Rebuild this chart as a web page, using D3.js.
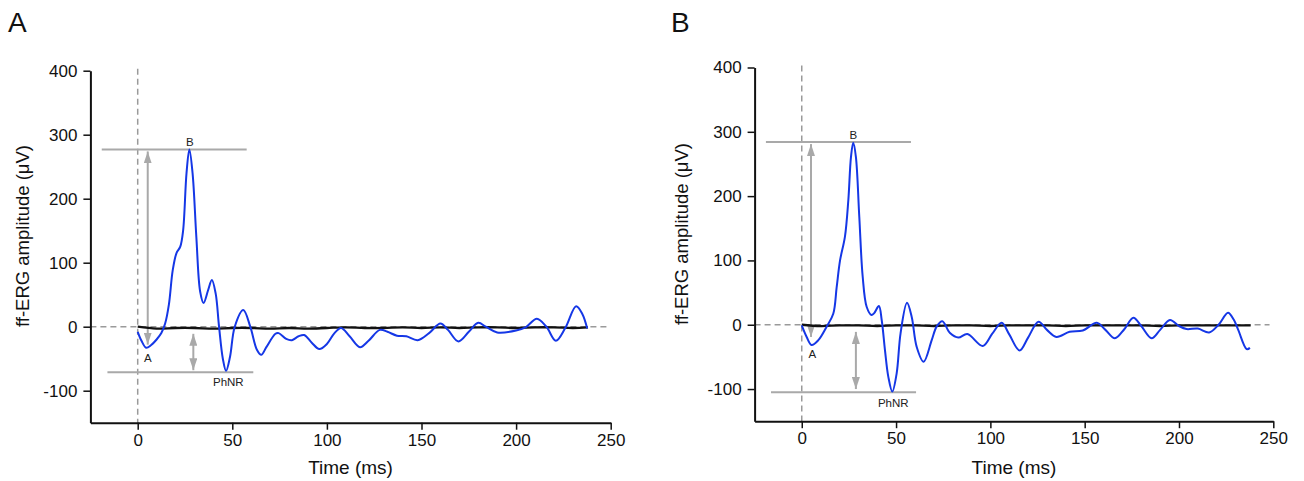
<!DOCTYPE html>
<html>
<head>
<meta charset="utf-8">
<script src="https://cdn.jsdelivr.net/npm/d3@7"></script>
<style>
  body { margin: 0; background: #fff; }
  svg { display: block; font-family: "Liberation Sans", Arial, sans-serif; }
</style>
</head>
<body>
<svg id="chart" width="1304" height="481"></svg>
<script>
// ---- data ----
const xTickLabels = [0, 50, 100, 150, 200, 250];
const xMinorTicks = [-25, 25, 75, 125, 175, 225];
const yTickLabels = [-100, 0, 100, 200, 300, 400];
const yMinorTicks = [-150, -50, 50, 150, 250, 350];

// panel A: blue trace (time ms, amplitude uV)
const timeA = [0, 2, 4.5, 7, 10, 12.5, 14.5, 16.5, 18.5, 20.5, 22.5, 24, 25.8, 27.3, 29, 31, 33, 34.8,
  37.2, 39.2, 41.2, 43, 45, 46.7, 48.8, 51.3, 55.8, 59.5, 63, 65.3, 68, 72.8, 74.5, 78.5, 81.5, 85,
  88, 92, 96, 100, 104, 107.5, 112, 117.5, 122, 128, 132, 137, 142, 148, 154, 160, 164, 169.5, 175,
  180, 184, 190, 200, 205, 211, 216, 221, 226, 231.7, 235, 237.6];
const ergA = [-8, -22, -33, -29, -20, -10, 5, 35, 88, 115, 125, 150, 240, 277, 240, 140, 55, 37,
  57, 73, 52, 0, -50, -69, -47, 0, 26, 0, -36, -44, -32, -11, -10, -19, -21, -15,
  -13, -25, -35, -27, -10, -2, -15, -32, -22, -5, -8, -14, -15, -21, -10, 5, -5, -23, -8,
  6, 0, -9, -6, -1, 12.5, 0, -22, -2, 32, 20, -3];
// panel A: black baseline trace
const baseTimeA = [0, 10, 20, 30, 40, 50, 60, 70, 80, 90, 100, 110, 120, 130, 140, 150, 160, 170, 180, 190, 200, 210, 220, 230, 238];
const baseA = [0, -3, -2, -2, -3, -2, -2, -3, -2, -3, -2, -1, -2, -2, -1, -2, -1, -2, -1, -1, -2, -1, -1, -2, -1];

// panel B: blue trace
const timeB = [0, 2.6, 5.2, 8.8, 13.2, 16.7, 18.5, 20.3, 22.9, 24.7, 26.1, 27.3, 28.7, 30.5, 32.3, 34.4,
  37, 38.4, 40.9, 42.4, 44.1, 45.9, 48, 50.3, 52.4, 55.8, 58.3, 60.9, 64.6, 68.9, 71.5, 74.5, 78.6, 83,
  87.8, 96, 101, 106, 110, 115.5, 120, 125.5, 130, 135, 142, 149, 156.4, 161, 166, 171, 175.8, 180,
  185.5, 190, 195.2, 200, 204, 210, 216, 221, 226, 229, 231.4, 235.9, 237.6];
const ergB = [-1, -19, -31.6, -24, -3, 17, 58, 100, 137, 194, 261, 283, 261, 168, 75, 28,
  15, 18, 29, 7, -39, -81, -104, -76, -13, 34, 12, -34, -57.5, -24, -3, 5.5, -13, -20,
  -14.5, -33, -14, 3, -15, -40, -20, 4.7, -8, -19, -11, -9, 3, -8, -21, -7, 11, -2,
  -21, -8, 7.3, -2, -6.7, -6, -12, 0, 18.7, 8, -8, -38, -36];
const baseTimeB = [0, 10, 20, 30, 40, 50, 60, 70, 80, 90, 100, 110, 120, 130, 140, 150, 160, 170, 180, 190, 200, 210, 220, 230, 238];
const baseB = [0, -2, -1, -1, -2, -1, -1, -2, -1, -1, -2, -1, -1, -1, -2, -1, -1, -1, -1, -2, -1, -1, -1, -1, -1];

// measured wave levels: [b-wave peak, PhNR trough]
const levelsA = [277, -71];
const levelsB = [284, -105];

const labelNames = ['A', 'B', 'PhNR'];

// ---- layout ----
const panels = [
  {
    letter: 'A', letterX: 8, titleX: 23, titleY: 236,
    xRange: [90.4, 610.7], yRange: [422.7, 70.7],
    time: timeA, erg: ergA, baseTime: baseTimeA, base: baseA, levels: levelsA,
    topLine: [-19, 57.6], botLine: [-16, 61.1],
    arrow1: { x: 5.3, y1: 277, y2: -28 }, arrow2: { x: 29.4, y1: -8, y2: -68 },
    lblA: [5.3, -49], lblB: [27.6, 289], lblP: [47.9, -87]
  },
  {
    letter: 'B', letterX: 671, titleX: 682, titleY: 234,
    xRange: [754.6, 1273.3], yRange: [421.2, 67.5],
    time: timeB, erg: ergB, baseTime: baseTimeB, base: baseB, levels: levelsB,
    topLine: [-19, 57.9], botLine: [-16.3, 60.6],
    arrow1: { x: 4.9, y1: 284, y2: -19 }, arrow2: { x: 28.7, y1: -8, y2: -100 },
    lblA: [5.6, -46], lblB: [27.3, 295], lblP: [48.5, -121]
  }
];

const svg = d3.select('#chart');
const grey = '#a9a9a9';

svg.append('defs').append('marker')
  .attr('id', 'head')
  .attr('viewBox', '0 0 12 8')
  .attr('refX', 12).attr('refY', 4)
  .attr('markerUnits', 'userSpaceOnUse')
  .attr('markerWidth', 12).attr('markerHeight', 8)
  .attr('orient', 'auto-start-reverse')
  .append('path')
  .attr('d', 'M0,0 L12,4 L0,8 Z')
  .attr('fill', grey);

panels.forEach(p => {
  const x = d3.scaleLinear().domain([-25, 250]).range(p.xRange);
  const y = d3.scaleLinear().domain([-150, 400]).range(p.yRange);
  const g = svg.append('g');

  // zero reference lines (dashed)
  g.append('line')
    .attr('x1', x(0)).attr('x2', x(0))
    .attr('y1', y(400) - 2).attr('y2', y(-150))
    .attr('stroke', '#9a9a9a').attr('stroke-width', 1.5).attr('stroke-dasharray', '6,4');
  g.append('line')
    .attr('x1', x(-25)).attr('x2', x(248))
    .attr('y1', y(0)).attr('y2', y(0))
    .attr('stroke', '#9a9a9a').attr('stroke-width', 1.5).attr('stroke-dasharray', '6,4');

  // measurement guides
  g.append('line')
    .attr('x1', x(p.topLine[0])).attr('x2', x(p.topLine[1]))
    .attr('y1', y(p.levels[0])).attr('y2', y(p.levels[0]))
    .attr('stroke', grey).attr('stroke-width', 2);
  g.append('line')
    .attr('x1', x(p.botLine[0])).attr('x2', x(p.botLine[1]))
    .attr('y1', y(p.levels[1])).attr('y2', y(p.levels[1]))
    .attr('stroke', grey).attr('stroke-width', 2);
  [p.arrow1, p.arrow2].forEach(a => {
    g.append('line')
      .attr('x1', x(a.x)).attr('x2', x(a.x))
      .attr('y1', y(a.y1) + 2).attr('y2', y(a.y2))
      .attr('stroke', grey).attr('stroke-width', 2)
      .attr('marker-start', 'url(#head)').attr('marker-end', 'url(#head)');
  });

  // traces
  const line = d3.line()
    .x(d => x(d[0])).y(d => y(d[1]))
    .curve(d3.curveCatmullRom.alpha(0.5));
  g.append('path')
    .datum(p.baseTime.map((t, i) => [t, p.base[i]]))
    .attr('d', line)
    .attr('fill', 'none').attr('stroke', '#111').attr('stroke-width', 2.3);
  g.append('path')
    .datum(p.time.map((t, i) => [t, p.erg[i]]))
    .attr('d', line)
    .attr('fill', 'none').attr('stroke', '#1537e6').attr('stroke-width', 2);

  // wave labels
  [[labelNames[0], p.lblA], [labelNames[1], p.lblB], [labelNames[2], p.lblP]].forEach(([t, pos]) => {
    g.append('text')
      .attr('x', x(pos[0])).attr('y', y(pos[1]))
      .attr('dy', '0.35em')
      .attr('text-anchor', 'middle')
      .attr('font-size', 11.5)
      .attr('fill', '#222')
      .text(t);
  });

  // axes (plain hyphen for negatives, as in the original)
  const fmt = d => String(d);
  const xAxis = g.append('g').attr('transform', `translate(0,${p.yRange[0]})`);
  xAxis.call(d3.axisBottom(x).tickValues(xMinorTicks).tickSize(4.5).tickSizeOuter(0).tickFormat(''));
  xAxis.call(d3.axisBottom(x).tickValues(xTickLabels).tickSize(7).tickSizeOuter(0).tickPadding(4).tickFormat(fmt));
  const yAxis = g.append('g').attr('transform', `translate(${p.xRange[0]},0)`);
  yAxis.call(d3.axisLeft(y).tickValues(yMinorTicks).tickSize(4.5).tickSizeOuter(0).tickFormat(''));
  yAxis.call(d3.axisLeft(y).tickValues(yTickLabels).tickSize(7).tickSizeOuter(0).tickPadding(6).tickFormat(fmt));

  g.selectAll('.domain').attr('stroke', '#111').attr('stroke-width', 2);
  g.selectAll('.tick line').attr('stroke', '#111').attr('stroke-width', 1.5);
  g.selectAll('.tick text')
    .attr('font-family', '"Liberation Sans", Arial, sans-serif')
    .attr('font-size', 17).attr('fill', '#111');

  // axis titles
  g.append('text')
    .attr('x', (p.xRange[0] + p.xRange[1]) / 2).attr('y', 474)
    .attr('text-anchor', 'middle')
    .attr('font-size', 19).attr('fill', '#111')
    .text('Time (ms)');
  g.append('text')
    .attr('transform', `translate(${p.titleX + 6},${p.titleY}) rotate(-90)`)
    .attr('text-anchor', 'middle')
    .attr('font-size', 18.5).attr('fill', '#111')
    .text('ff-ERG amplitude (\u03bcV)');

  // panel letter
  g.append('text')
    .attr('x', p.letterX).attr('y', 32)
    .attr('font-size', 28).attr('fill', '#111')
    .text(p.letter);
});
</script>
</body>
</html>
